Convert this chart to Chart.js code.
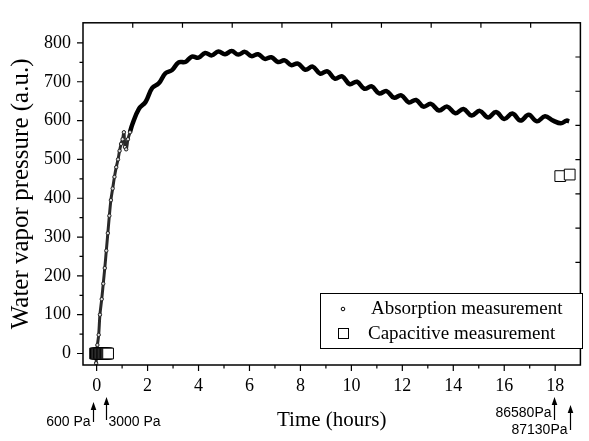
<!DOCTYPE html>
<html><head><meta charset="utf-8">
<script src="https://cdn.jsdelivr.net/npm/chart.js@4.4.0/dist/chart.umd.min.js"></script>
<style>html,body{margin:0;padding:0;background:#fff;overflow:hidden}canvas{display:block}</style>
</head><body>
<canvas id="c" width="589" height="441"></canvas>
<script>
// ---- data ----
const absTime = [
 -0.02, 0.00, 0.03, 0.08, 0.13, 0.20, 0.26, 0.32, 0.38, 0.44, 0.50, 0.56, 0.63, 0.70, 0.77, 0.84, 0.90, 0.96, 1.02, 1.07, 1.11, 1.16, 1.23, 1.31,
 1.40, 1.66, 1.92, 2.18, 2.44, 2.70, 2.96, 3.22, 3.48, 3.74, 4.00, 4.26, 4.52, 4.78, 5.04, 5.30, 5.56, 5.82, 6.08, 6.34, 6.60, 6.86, 7.12, 7.38, 7.64, 7.90,
 8.19, 8.48, 8.77, 9.06, 9.35, 9.64, 9.93, 10.22, 10.51, 10.80, 11.09, 11.38, 11.67, 11.96, 12.25, 12.54, 12.83, 13.12,
 13.44, 13.76, 14.08, 14.40, 14.72, 15.04, 15.36, 15.68, 16.00, 16.32, 16.64, 16.96, 17.28, 17.60, 17.92, 18.22, 18.45, 18.55
];
const absValue = [
 -25, 5, 22, 48, 100, 140, 180, 220, 265, 310, 355, 395, 425, 455, 480, 500, 522, 540, 552, 570, 532, 526, 552, 570,
 590, 630, 648, 684, 696, 722, 730, 750, 751, 765, 762, 774, 768, 778, 771, 779, 770, 777, 766, 771, 759, 763, 751, 755, 743, 747,
 731, 739, 721, 727, 708, 714, 694, 700, 682, 688, 670, 676, 659, 665, 647, 653, 636, 643,
 626, 636, 619, 630, 613, 625, 608, 622, 604, 618, 600, 615, 598, 611, 600, 593, 600, 598
];
const capTime = [-0.06, -0.03, 0.00, 0.03, 0.06, 0.09, 0.12, 0.15, 0.18, 0.21, 0.24, 0.27, 0.30, 0.33, 0.36, 0.39, 0.42, 0.45, 18.20, 18.57];
const capValue = [0, 0, 0, 0, 0, 0, 0, 0, 0, 0, 0, 0, 0, 0, 0, 0, 0, 0, 457, 461];

const xTickValues = [0, 2, 4, 6, 8, 10, 12, 14, 16, 18];
const xMinorValues = [1, 3, 5, 7, 9, 11, 13, 15, 17];
const yTickValues = [0, 100, 200, 300, 400, 500, 600, 700, 800];
const yMinorValues = [50, 150, 250, 350, 450, 550, 650, 750];
const topTickValues = [1, 2, 3, 4, 5, 6, 7, 8, 9];
const rightTickValues = [1, 2, 3, 4, 5, 6, 7, 8, 9];

const annoTime = [-0.15, 0.36, 17.95, 18.6];
const annoLabel = ['600 Pa', '3000 Pa', '86580Pa', '87130Pa'];

const legendLabels = ['Absorption measurement', 'Capacitive measurement'];

// ---- styling / layout (not data) ----
const annoLayout = [
  {top: 402, bottom: 422, side: 'left', ty: 422},
  {top: 397, bottom: 420, side: 'right', ty: 422},
  {top: 397, bottom: 420, side: 'left', ty: 413},
  {top: 405, bottom: 430, side: 'left', ty: 430}
];
const SERIF = "'Liberation Serif', 'Times New Roman', serif";
const SANS = "'Liberation Sans', Arial, sans-serif";

const absPts = absTime.map((t, i) => ({x: t, y: absValue[i]}));
const capPts = capTime.map((t, i) => ({x: t, y: capValue[i]}));
const RISE_END = 1.35;

const framePlugin = {
  id: 'frame',
  afterDraw(chart) {
    const {ctx, chartArea: a, scales} = chart;
    ctx.save();
    ctx.strokeStyle = '#000';
    ctx.lineWidth = 1.5;
    ctx.strokeRect(a.left, a.top, a.right - a.left, a.bottom - a.top);
    ctx.lineWidth = 1.2;
    ctx.beginPath();
    xTickValues.forEach(v => { const p = scales.x.getPixelForValue(v); ctx.moveTo(p, a.bottom); ctx.lineTo(p, a.bottom + 6); });
    xMinorValues.forEach(v => { const p = scales.x.getPixelForValue(v); ctx.moveTo(p, a.bottom); ctx.lineTo(p, a.bottom + 3.5); });
    yTickValues.forEach(v => { const p = scales.y.getPixelForValue(v); ctx.moveTo(a.left, p); ctx.lineTo(a.left - 6, p); });
    yMinorValues.forEach(v => { const p = scales.y.getPixelForValue(v); ctx.moveTo(a.left, p); ctx.lineTo(a.left - 3.5, p); });
    topTickValues.forEach(v => { const p = scales.x2.getPixelForValue(v); ctx.moveTo(p, a.top); ctx.lineTo(p, a.top + 5); });
    rightTickValues.forEach(v => { const p = scales.y2.getPixelForValue(v); ctx.moveTo(a.right, p); ctx.lineTo(a.right - 5, p); });
    ctx.stroke();

    // annotations with arrows
    ctx.fillStyle = '#000';
    ctx.font = '14px ' + SANS;
    ctx.textBaseline = 'middle';
    annoTime.forEach((t, i) => {
      const L = annoLayout[i];
      const x = Math.round(scales.x.getPixelForValue(t)) + 0.5;
      ctx.beginPath();
      ctx.lineWidth = 1.2;
      ctx.moveTo(x, L.bottom); ctx.lineTo(x, L.top + 6);
      ctx.stroke();
      ctx.beginPath();
      ctx.moveTo(x, L.top); ctx.lineTo(x - 2.8, L.top + 8); ctx.lineTo(x + 2.8, L.top + 8); ctx.closePath();
      ctx.fill();
      if (L.side === 'left') { ctx.textAlign = 'right'; ctx.fillText(annoLabel[i], x - 3, L.ty); }
      else { ctx.textAlign = 'left'; ctx.fillText(annoLabel[i], x + 2, L.ty); }
    });

    // legend box
    const lx = 320, ly = 293, lw = 262, lh = 55;
    ctx.lineWidth = 1;
    ctx.fillStyle = '#fff';
    ctx.fillRect(lx, ly, lw, lh);
    ctx.strokeRect(lx + 0.5, ly + 0.5, lw, lh);
    ctx.beginPath(); ctx.arc(343, 309, 1.8, 0, Math.PI * 2); ctx.lineWidth = 1; ctx.stroke();
    ctx.strokeRect(338.5, 328.5, 10, 10);
    ctx.fillStyle = '#000';
    ctx.font = '19px ' + SERIF;
    ctx.textAlign = 'left';
    ctx.fillText(legendLabels[0], 371, 309);
    ctx.fillText(legendLabels[1], 368, 334);
    ctx.restore();
  }
};

new Chart(document.getElementById('c').getContext('2d'), {
  type: 'scatter',
  data: {
    datasets: [
      {
        label: legendLabels[1], data: capPts, showLine: false, order: 0,
        pointStyle: 'rect', pointRadius: 7.6, pointHoverRadius: 7.6,
        pointBackgroundColor: '#fff', pointBorderColor: '#000', pointBorderWidth: 1
      },
      {
        label: legendLabels[0], data: absPts, showLine: true, order: 1,
        borderColor: '#000', borderWidth: 4.5, tension: 0.4,
        pointRadius: c => (c.raw && c.raw.x < RISE_END) ? 1.7 : 0,
        pointHoverRadius: 0,
        pointBackgroundColor: '#ddd', pointBorderColor: '#222', pointBorderWidth: 1,
        segment: {
          borderWidth: c => c.p1.parsed.x < RISE_END ? 3 : undefined,
          borderColor: c => c.p1.parsed.x < RISE_END ? '#2a2a2a' : undefined
        }
      }
    ]
  },
  options: {
    responsive: false, animation: false, events: [],
    layout: {padding: {left: 0, right: 6, top: 8, bottom: 0}},
    plugins: {legend: {display: false}, tooltip: {enabled: false}},
    scales: {
      x: {
        type: 'linear', position: 'bottom', min: -0.535, max: 18.99,
        afterBuildTicks: s => { s.ticks = xTickValues.map(v => ({value: v})); },
        afterFit: s => { s.height = 76; },
        ticks: {font: {family: SERIF, size: 18}, color: '#000', padding: 10, maxRotation: 0, autoSkip: false},
        grid: {display: false, drawTicks: false}, border: {display: false},
        title: {display: true, text: 'Time (hours)', color: '#000', font: {family: SERIF, size: 21}, padding: {top: 0, bottom: 8}}
      },
      y: {
        type: 'linear', position: 'left', min: -29.6, max: 851.9,
        afterBuildTicks: s => { s.ticks = yTickValues.map(v => ({value: v})); },
        afterFit: s => { s.width = 83; },
        ticks: {font: {family: SERIF, size: 18}, color: '#000', padding: 12, autoSkip: false},
        grid: {display: false, drawTicks: false}, border: {display: false},
        title: {display: true, text: 'Water vapor pressure (a.u.)', color: '#000', font: {family: SERIF, size: 25}, padding: {top: 6, bottom: 0}}
      },
      x2: {type: 'linear', position: 'top', display: false, min: 0, max: 10},
      y2: {type: 'linear', position: 'right', display: false, min: 0, max: 10}
    }
  },
  plugins: [framePlugin]
});
</script>
</body></html>
